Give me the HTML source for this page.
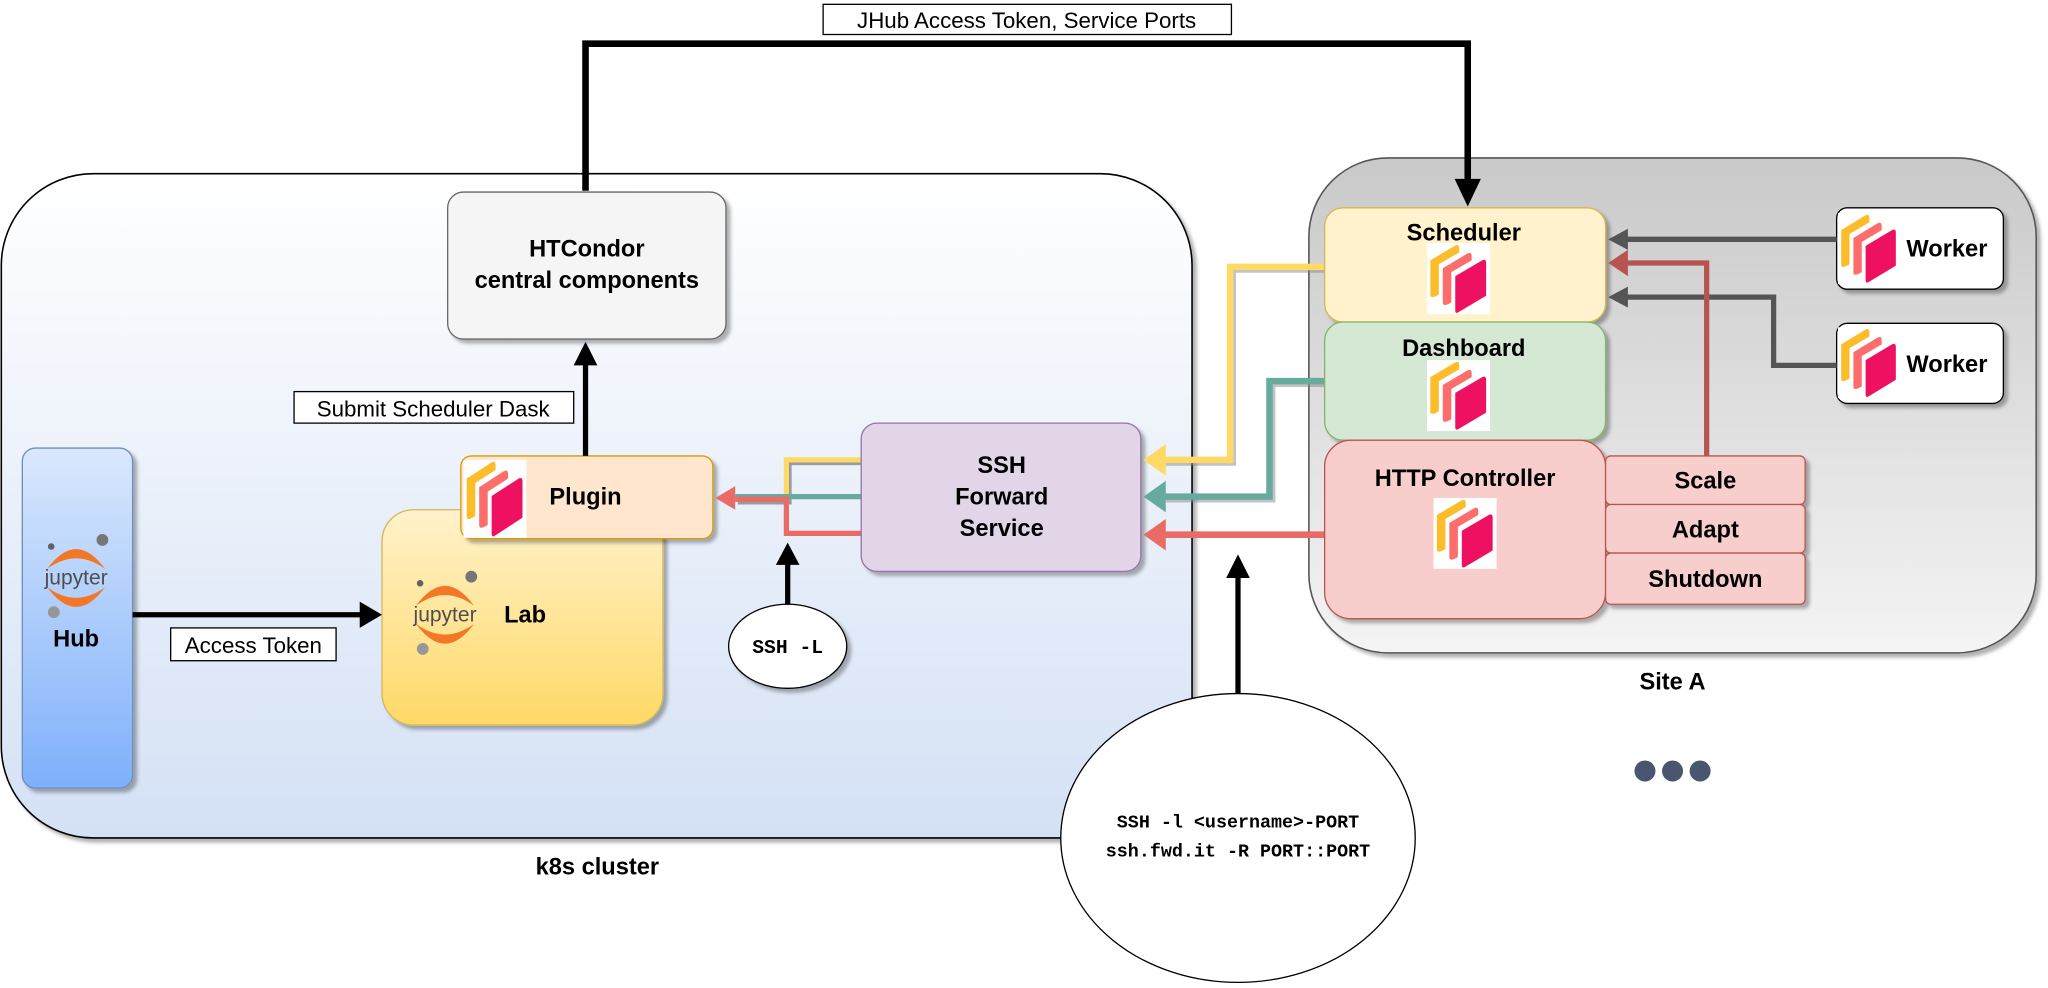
<!DOCTYPE html>
<html><head><meta charset="utf-8"><style>
html,body{margin:0;padding:0;background:#fff;}
svg{display:block;}
text{font-family:"Liberation Sans",sans-serif;}
.b{font-weight:bold;font-size:18px;text-anchor:middle;}
.m{font-family:"Liberation Mono",monospace;font-weight:bold;}
</style></head><body>
<svg width="2048" height="988" viewBox="0 0 1560 752" xmlns="http://www.w3.org/2000/svg">
<defs>
<linearGradient id="gk" x1="0" y1="0" x2="0" y2="1"><stop offset="0" stop-color="#ffffff"/><stop offset="1" stop-color="#d4e1f5"/></linearGradient>
<linearGradient id="gs" x1="0" y1="0" x2="0" y2="1"><stop offset="0" stop-color="#c9c9c9"/><stop offset="1" stop-color="#f4f4f4"/></linearGradient>
<linearGradient id="gh" x1="0" y1="0" x2="0" y2="1"><stop offset="0" stop-color="#dae8fc"/><stop offset="1" stop-color="#7eb0fb"/></linearGradient>
<linearGradient id="gl" x1="0" y1="0" x2="0" y2="1"><stop offset="0" stop-color="#fff2cc"/><stop offset="1" stop-color="#ffd966"/></linearGradient>
<filter id="sh" x="-10%" y="-10%" width="130%" height="130%"><feDropShadow dx="3" dy="3" stdDeviation="1.5" flood-color="#000" flood-opacity="0.3"/></filter>
<g id="dask">
<rect x="0" y="0" width="48" height="54" fill="#fff"/>
<path d="M2.5 13 L21 2 Q24.5 0 24.5 4 L24.5 7 L9 16 L9 39 Q2.5 43 2.5 39 Z" fill="#fdbd2b"/>
<path d="M12 19 L30.5 8 Q34 6 34 10 L34 13 L18.5 22 L18.5 45 Q12 49 12 45 Z" fill="#fc6e6b"/>
<path d="M21.5 25 L42 13 Q45 11.5 45 15 L45 40 L24 52.5 Q21.5 54 21.5 51 Z" fill="#ef1161"/>
</g>
<g id="jup">
<path d="M-22 -4 Q0 -34 22 -4 Q0 -20 -22 -4 Z" fill="#f37726"/>
<path d="M-22 10 Q0 40 22 10 Q0 26 -22 10 Z" fill="#f37726"/>
<circle cx="20" cy="-26" r="4.5" fill="#767677"/>
<circle cx="-19" cy="-21" r="2.5" fill="#616262"/>
<circle cx="-17" cy="29" r="4.5" fill="#989798"/>
<text x="0" y="8" font-size="16" text-anchor="middle" fill="#4e4e4e" font-family="DejaVu Sans,sans-serif">jupyter</text>
</g>
</defs>

<rect x="1" y="132" width="907" height="506" rx="70" fill="url(#gk)" stroke="#000" stroke-width="1.2" filter="url(#sh)"/>
<text x="455" y="666" class="b" font-size="19">k8s cluster</text>

<rect x="997" y="120" width="554" height="377" rx="60" fill="url(#gs)" stroke="#555" stroke-width="1.2" filter="url(#sh)"/>
<text x="1274" y="525" class="b" font-size="17">Site A</text>

<polyline points="446,145 446,33 1118,33 1118,140" fill="none" stroke="#000" stroke-width="5"/>
<polygon points="1108,136 1128,136 1118,157" fill="#000"/>
<rect x="627" y="3" width="311" height="23" fill="#fff" stroke="#000"/>
<text x="782" y="21" font-size="17" text-anchor="middle">JHub Access Token, Service Ports</text>

<rect x="341" y="146" width="212" height="112" rx="12" fill="#f5f5f5" stroke="#666" filter="url(#sh)"/>
<text x="447" y="195" class="b">HTCondor</text>
<text x="447" y="219" class="b">central components</text>

<rect x="17" y="341" width="84" height="259" rx="10" fill="url(#gh)" stroke="#6c8ebf" filter="url(#sh)"/>
<use href="#jup" x="58" y="437"/>
<text x="58" y="492" class="b" font-size="21">Hub</text>

<rect x="291" y="388" width="214" height="164" rx="24" fill="url(#gl)" stroke="#d6b656" filter="url(#sh)"/>
<use href="#jup" x="339" y="465"/>
<text x="400" y="474" class="b">Lab</text>

<line x1="101" y1="468" x2="276" y2="468" stroke="#000" stroke-width="4"/>
<polygon points="274,458 291,468 274,478" fill="#000"/>
<rect x="130" y="478" width="126" height="25" fill="#fff" stroke="#000"/>
<text x="193" y="497" font-size="17" text-anchor="middle">Access Token</text>

<rect x="351" y="347" width="192" height="63" rx="8" fill="#ffe6cc" stroke="#d79b00" filter="url(#sh)"/>
<use href="#dask" transform="translate(353,350) scale(1,1.1)"/>
<text x="446" y="384" class="b">Plugin</text>

<line x1="446" y1="347" x2="446" y2="275" stroke="#000" stroke-width="4"/>
<polygon points="437,278 446,260 455,278" fill="#000"/>
<rect x="224" y="298" width="213" height="24" fill="#fff" stroke="#000"/>
<text x="330" y="317" font-size="17" text-anchor="middle">Submit Scheduler Dask</text>

<g fill="none" stroke-width="4">
<polyline points="656,352 601,352 601,382 562,382" stroke="#444" opacity="0.5"/>
<polyline points="656,350 599,350 599,380" stroke="#ffd966"/>
<line x1="656" y1="378" x2="560" y2="378" stroke="#67ab9f"/>
<polyline points="656,406 599,406 599,380 560,380" stroke="#ea6b66"/>
</g>
<polygon points="560,370 545,379 560,388" fill="#ea6b66"/>

<ellipse cx="600" cy="492" rx="45" ry="32" fill="#fff" stroke="#000" filter="url(#sh)"/>
<text x="600" y="497" class="m" font-size="15" text-anchor="middle">SSH -L</text>
<line x1="600" y1="460" x2="600" y2="428" stroke="#000" stroke-width="4"/>
<polygon points="591,430 600,413 609,430" fill="#000"/>

<rect x="656" y="322" width="213" height="113" rx="12" fill="#e1d5e7" stroke="#9673a6" filter="url(#sh)"/>
<text x="763" y="360" class="b">SSH</text>
<text x="763" y="384" class="b">Forward</text>
<text x="763" y="408" class="b">Service</text>

<g fill="none" stroke-width="5">
<polyline points="1009,205 939,205 939,352 888,352" stroke="#888" opacity="0.5"/>
<polyline points="1009,203 937,203 937,350 886,350" stroke="#ffd966"/>
<polyline points="1009,292 969,292 969,380 888,380" stroke="#888" opacity="0.5"/>
<polyline points="1009,290 967,290 967,378 886,378" stroke="#67ab9f"/>
<line x1="1009" y1="407" x2="886" y2="407" stroke="#ea6b66"/>
</g>
<polygon points="888,338 871,350 888,362" fill="#ffd966"/>
<polygon points="888,366 871,378 888,390" fill="#67ab9f"/>
<polygon points="888,395 871,407 888,419" fill="#ea6b66"/>

<line x1="943" y1="530" x2="943" y2="437" stroke="#000" stroke-width="4"/>
<polygon points="934,440 943,422 952,440" fill="#000"/>

<ellipse cx="943" cy="638" rx="135" ry="110" fill="#fff" stroke="#000"/>
<text x="943" y="630" class="m" font-size="14" text-anchor="middle">SSH -l &lt;username&gt;-PORT</text>
<text x="943" y="652" class="m" font-size="14" text-anchor="middle">ssh.fwd.it -R PORT::PORT</text>

<rect x="1009" y="158" width="214" height="87" rx="14" fill="#fff2cc" stroke="#d6b656" filter="url(#sh)"/>
<text x="1115" y="183" class="b">Scheduler</text>
<use href="#dask" x="1087" y="185"/>
<rect x="1009" y="245" width="214" height="90" rx="14" fill="#d5e8d4" stroke="#82b366" filter="url(#sh)"/>
<text x="1115" y="271" class="b">Dashboard</text>
<use href="#dask" x="1087" y="274"/>
<rect x="1009" y="335" width="214" height="136" rx="20" fill="#f8cecc" stroke="#b85450" filter="url(#sh)"/>
<text x="1116" y="370" class="b">HTTP Controller</text>
<use href="#dask" x="1092" y="379"/>

<rect x="1223" y="347" width="152" height="37" rx="4" fill="#f8cecc" stroke="#b85450" filter="url(#sh)"/>
<text x="1299" y="372" class="b">Scale</text>
<rect x="1223" y="384" width="152" height="37" rx="4" fill="#f8cecc" stroke="#b85450" filter="url(#sh)"/>
<text x="1299" y="409" class="b">Adapt</text>
<rect x="1223" y="421" width="152" height="39" rx="4" fill="#f8cecc" stroke="#b85450" filter="url(#sh)"/>
<text x="1299" y="447" class="b">Shutdown</text>

<rect x="1399" y="158" width="127" height="62" rx="8" fill="#fff" stroke="#000" filter="url(#sh)"/>
<use href="#dask" transform="translate(1400,162) scale(0.98,1)"/>
<text x="1483" y="195" class="b">Worker</text>
<rect x="1399" y="246" width="127" height="61" rx="8" fill="#fff" stroke="#000" filter="url(#sh)"/>
<use href="#dask" transform="translate(1400,249) scale(0.98,1)"/>
<text x="1483" y="283" class="b">Worker</text>

<g fill="none" stroke-width="4">
<line x1="1399" y1="182" x2="1238" y2="182" stroke="#555"/>
<polyline points="1399,278 1351,278 1351,226 1238,226" stroke="#555"/>
<polyline points="1300,347 1300,200 1238,200" stroke="#b85450"/>
</g>
<polygon points="1240,174 1225,182 1240,190" fill="#555"/>
<polygon points="1240,218 1225,226 1240,234" fill="#555"/>
<polygon points="1240,190 1225,200 1240,210" fill="#b85450"/>

<circle cx="1253" cy="587" r="8" fill="#4a5670"/>
<circle cx="1274" cy="587" r="8" fill="#4a5670"/>
<circle cx="1295" cy="587" r="8" fill="#4a5670"/>
</svg>
</body></html>
